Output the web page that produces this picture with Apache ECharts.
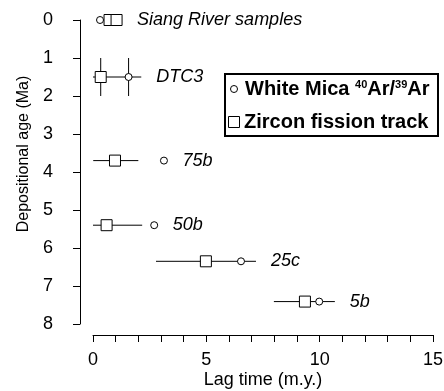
<!DOCTYPE html>
<html>
<head>
<meta charset="utf-8">
<script src="https://cdn.jsdelivr.net/npm/echarts@6/dist/echarts.min.js"></script>
<style>
  html, body { margin: 0; padding: 0; background: #fff; }
  #main { width: 444px; height: 391px; }
</style>
</head>
<body>
<div id="main"></div>
<script>
// samples (depositional age in Ma, lag times in m.y.)
var samples = ['Siang River samples', 'DTC3', '75b', '50b', '25c', '5b'];
var depAge = [0, 1.5, 3.7, 5.4, 6.35, 7.41];
var ageErr = [0, 0.5, 0, 0, 0, 0];

// white mica 40Ar/39Ar lag times
var micaLag = [0.31, 1.57, 3.13, 2.7, 6.53, 9.98];
var micaLo  = [0.31, 1.57, 3.13, 2.7, 6.53, 9.98];
var micaHi  = [0.31, 2.13, 3.13, 2.7, 6.53, 9.98];

// zircon fission track lag times (Siang River has two)
var zirconSample = [0, 0, 1, 2, 3, 4, 5];
var zirconLag = [0.73, 1.04, 0.34, 0.97, 0.6, 4.98, 9.35];
var zirconLo  = [0.73, 1.04, 0.0, 0.01, 0.0, 2.78, 7.98];
var zirconHi  = [0.73, 1.04, 1.57, 2.0, 2.17, 7.19, 10.67];

var xTicks = [0, 5, 10, 15];

var font = '"Liberation Sans", Arial, Helvetica, sans-serif';
var chart = echarts.init(document.getElementById('main'));

function renderErr(params, api) {
  var y = api.value(1);
  var c = api.coord([api.value(0), y]);
  var lo = api.coord([api.value(2), y]);
  var hi = api.coord([api.value(3), y]);
  var e = api.value(4);
  var st = { stroke: '#000', lineWidth: 1 };
  var kids = [];
  if (hi[0] - lo[0] > 0.5) {
    kids.push({ type: 'line', shape: { x1: lo[0], y1: c[1], x2: hi[0], y2: c[1] }, style: st });
  }
  if (e > 0) {
    var t = api.coord([api.value(0), y - e]);
    var b = api.coord([api.value(0), y + e]);
    kids.push({ type: 'line', shape: { x1: c[0], y1: t[1], x2: c[0], y2: b[1] }, style: st });
  }
  return { type: 'group', children: kids };
}

function renderLabel(params, api) {
  var i = params.dataIndex;
  var x = -Infinity;
  zirconLag.forEach(function (v, k) {
    if (zirconSample[k] !== i) return;
    x = Math.max(x, api.coord([v, 0])[0] + 5.5, api.coord([zirconHi[k], 0])[0]);
  });
  x = Math.max(x, api.coord([micaLag[i], 0])[0] + 3.5, api.coord([micaHi[i], 0])[0]);
  var p = api.coord([0, depAge[i]]);
  return {
    type: 'text',
    style: {
      x: x + 15, y: p[1], text: samples[i],
      font: 'italic 18px ' + font, fill: '#000',
      align: 'left', verticalAlign: 'middle'
    }
  };
}

var micaErrData = micaLag.map(function (v, i) { return [v, depAge[i], micaLo[i], micaHi[i], ageErr[i]]; });
var zirconErrData = zirconLag.map(function (v, k) {
  var i = zirconSample[k];
  return [v, depAge[i], zirconLo[k], zirconHi[k], ageErr[i]];
});

option = {
  backgroundColor: '#fff',
  animation: false,
  grid: { left: 93, right: 11, top: 20, bottom: 67, containLabel: false, outerBoundsMode: 'none' },
  xAxis: {
    type: 'value', min: 0, max: 15, interval: 1, offset: 11,
    name: 'Lag time (m.y.)', nameLocation: 'middle', nameGap: 36, nameMoveOverlap: false,
    nameTextStyle: { fontFamily: font, fontSize: 18, color: '#000' },
    axisLine: { show: true, onZero: false, lineStyle: { color: '#000', width: 1 } },
    axisTick: { show: true, length: 7, lineStyle: { color: '#000' } },
    axisLabel: {
      margin: 16, fontFamily: font, fontSize: 18, color: '#000',
      formatter: function (v) { return xTicks.indexOf(v) >= 0 ? String(v) : ''; }
    },
    splitLine: { show: false }
  },
  yAxis: {
    type: 'value', min: 0, max: 8, interval: 1, inverse: true, offset: 13,
    name: 'Depositional age (Ma)', nameLocation: 'middle', nameGap: 48, nameMoveOverlap: false,
    nameTextStyle: { fontFamily: font, fontSize: 16, color: '#000', padding: [0, 0, 0, 36] },
    axisLine: { show: true, onZero: false, lineStyle: { color: '#000', width: 1 } },
    axisTick: { show: true, length: 7, lineStyle: { color: '#000' } },
    axisLabel: { margin: 27, fontFamily: font, fontSize: 18, color: '#000' },
    splitLine: { show: false }
  },
  series: [
    {
      type: 'custom', name: 'zircon err', renderItem: renderErr,
      encode: { x: [0, 2, 3], y: 1 }, data: zirconErrData, z: 1, silent: true
    },
    {
      type: 'custom', name: 'mica err', renderItem: renderErr,
      encode: { x: [0, 2, 3], y: 1 }, data: micaErrData, z: 1, silent: true
    },
    {
      type: 'scatter', name: 'Zircon fission track', symbol: 'rect', symbolSize: 11,
      itemStyle: { color: '#fff', borderColor: '#000', borderWidth: 1, opacity: 1 },
      data: zirconLag.map(function (v, k) { return [v, depAge[zirconSample[k]]]; }), z: 3
    },
    {
      type: 'scatter', name: 'White Mica 40Ar/39Ar', symbol: 'circle', symbolSize: 7,
      itemStyle: { color: '#fff', borderColor: '#000', borderWidth: 1, opacity: 1 },
      data: micaLag.map(function (v, i) { return [v, depAge[i]]; }), z: 4
    },
    {
      type: 'custom', name: 'labels', renderItem: renderLabel,
      encode: { x: 0, y: 1 }, data: samples.map(function (s, i) { return [0, depAge[i]]; }), z: 5, silent: true
    }
  ],
  graphic: [
    { type: 'rect', shape: { x: 225, y: 74, width: 213, height: 62 },
      style: { fill: '#fff', stroke: '#000', lineWidth: 2 }, z: 10 },
    { type: 'circle', shape: { cx: 234, cy: 89, r: 3.5 },
      style: { fill: '#fff', stroke: '#000', lineWidth: 1 }, z: 11 },
    { type: 'rect', shape: { x: 228.5, y: 116.5, width: 11, height: 11 },
      style: { fill: '#fff', stroke: '#000', lineWidth: 1 }, z: 11 },
    { type: 'text', z: 11,
      style: { x: 245, y: 89, verticalAlign: 'middle', fill: '#000',
        text: 'White Mica {sup|40}Ar/{sup|39}Ar',
        font: 'bold 20px ' + font,
        rich: { sup: { fontSize: 11, fontWeight: 'bold', fontFamily: font, padding: [0, 0, 8, 0] } } } },
    { type: 'text', z: 11,
      style: { x: 244, y: 122, verticalAlign: 'middle', fill: '#000',
        text: 'Zircon fission track', font: 'bold 20px ' + font } }
  ]
};

chart.setOption(option);
</script>
</body>
</html>
